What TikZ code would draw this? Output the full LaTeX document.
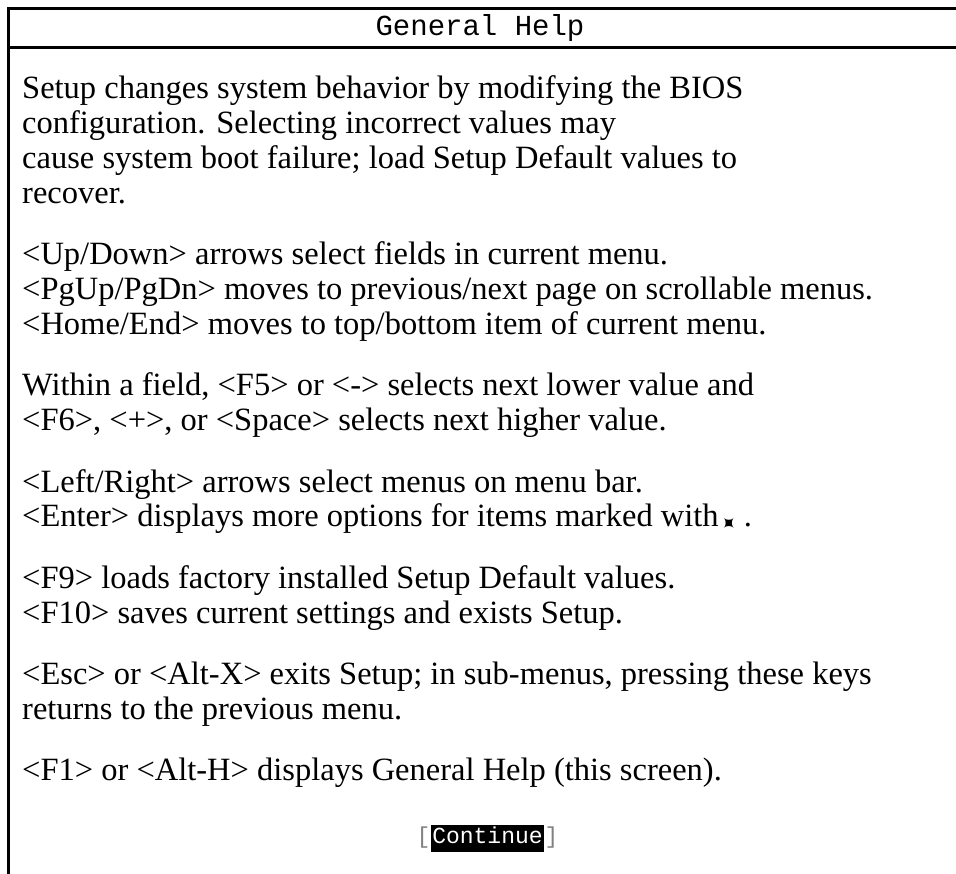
\documentclass[tikz,border=0pt]{standalone}
\usepackage{fontspec}
\setmainfont{Liberation Serif}
\setmonofont{Liberation Mono}
\newfontfamily\symfont{DejaVu Sans}
\usepackage{tikz}
\usetikzlibrary{positioning}

\newcommand{\helppar}[1]{\begin{minipage}[t]{920pt}\raggedright #1\end{minipage}}
\newcommand{\submark}{\kern5pt\makebox[12pt][c]{\raisebox{-3.5pt}[0pt][0pt]{\rotatebox[origin=c]{45}{\symfont\fontsize{20}{20}\selectfont ✦}}}}

\tikzset{
    frame-line/.style = {line width=3pt},
    title-text/.style = {font=\ttfamily\fontsize{29}{29}\selectfont, inner sep=0pt},
    help-text/.style = {anchor=base west, inner sep=0pt, font=\fontsize{32.5}{35}\selectfont},
    button/.style = {fill=black, text=white, inner xsep=1.5pt, inner ysep=2pt, text height=17pt, text depth=6pt, font=\ttfamily\fontsize{23}{23}\selectfont},
    bracket/.style = {text=gray, inner xsep=0pt, inner ysep=2pt, text height=17pt, text depth=6pt, font=\ttfamily\fontsize{23}{23}\selectfont},
}

\begin{document}
\begin{tikzpicture}[x=1pt, y=-1pt]
\useasboundingbox (0,0) rectangle (956,874);

% window frame
\coordinate (tl) at (8.5,8.5);
\coordinate (tr) at (958,8.5);
\coordinate (ml) at (8.5,47.5);
\coordinate (mr) at (958,47.5);
\coordinate (bl) at (8.5,876);
\draw[frame-line] (tr) -- (tl) -- (bl);
\draw[frame-line] (ml) -- (mr);

\node[title-text] (title) at (480,28) {General Help};

% help paragraphs
\node[help-text] (intro) at (22,99) {\helppar{Setup changes system behavior by modifying the BIOS\\
configuration. Selecting incorrect values may\\
cause system boot failure; load Setup Default values to\\
recover.}};
\node[help-text] (moves) at (22,265) {\helppar{<Up/Down> arrows select fields in current menu.\\
<PgUp/PgDn> moves to previous/next page on scrollable menus.\\
<Home/End> moves to top/bottom item of current menu.}};
\node[help-text] (values) at (22,396) {\helppar{Within a field, <F5> or <-> selects next lower value and\\
<F6>, <+>, or <Space> selects next higher value.}};
\node[help-text] (menus) at (22,492) {\helppar{<Left/Right> arrows select menus on menu bar.\\
<Enter> displays more options for items marked with\submark\ .}};
\node[help-text] (defaults) at (22,588) {\helppar{<F9> loads factory installed Setup Default values.\\
<F10> saves current settings and exists Setup.}};
\node[help-text] (escape) at (22,684) {\helppar{<Esc> or <Alt-X> exits Setup; in sub-menus, pressing these keys\\
returns to the previous menu.}};
\node[help-text] (generalkey) at (22,780) {\helppar{<F1> or <Alt-H> displays General Help (this screen).}};

% continue button
\node[button] (cont) at (487.5,838) {Continue};
\node[bracket, left=0pt of cont] (lbr) {[};
\node[bracket, right=0pt of cont] (rbr) {]};
\end{tikzpicture}
\end{document}
